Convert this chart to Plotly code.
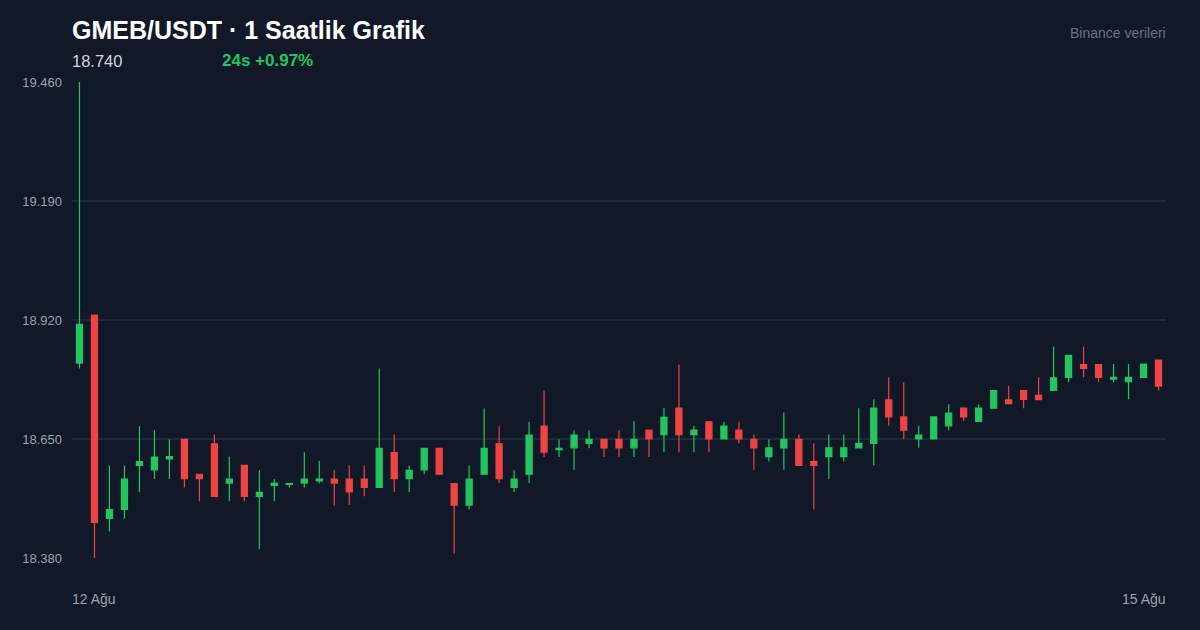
import plotly.graph_objects as go

opens = [18.822, 18.931, 18.470, 18.490, 18.590, 18.580, 18.605, 18.649, 18.570, 18.639,
         18.550, 18.590, 18.520, 18.545, 18.547, 18.550, 18.555, 18.559, 18.559, 18.559,
         18.540, 18.619, 18.560, 18.580, 18.629, 18.549, 18.500, 18.570, 18.639, 18.540,
         18.570, 18.679, 18.626, 18.630, 18.640, 18.649, 18.649, 18.630, 18.670, 18.660,
         18.720, 18.660, 18.689, 18.650, 18.670, 18.649, 18.610, 18.630, 18.649, 18.599,
         18.610, 18.610, 18.630, 18.640, 18.739, 18.700, 18.650, 18.650, 18.680, 18.720,
         18.690, 18.720, 18.739, 18.760, 18.749, 18.760, 18.790, 18.819, 18.819, 18.786,
         18.780, 18.790, 18.829]
highs = [19.460, 18.932, 18.590, 18.590, 18.679, 18.670, 18.649, 18.650, 18.571, 18.660,
         18.610, 18.591, 18.579, 18.559, 18.550, 18.620, 18.600, 18.579, 18.590, 18.590,
         18.810, 18.660, 18.590, 18.630, 18.630, 18.550, 18.590, 18.719, 18.679, 18.579,
         18.689, 18.760, 18.649, 18.670, 18.670, 18.650, 18.670, 18.690, 18.670, 18.720,
         18.819, 18.680, 18.690, 18.689, 18.689, 18.660, 18.649, 18.710, 18.660, 18.640,
         18.660, 18.660, 18.720, 18.740, 18.790, 18.779, 18.680, 18.700, 18.729, 18.720,
         18.729, 18.760, 18.770, 18.760, 18.790, 18.860, 18.840, 18.860, 18.820, 18.820,
         18.820, 18.820, 18.830]
lows = [18.810, 18.380, 18.440, 18.469, 18.530, 18.559, 18.559, 18.540, 18.509, 18.519,
        18.509, 18.509, 18.400, 18.509, 18.540, 18.540, 18.549, 18.499, 18.500, 18.520,
        18.539, 18.530, 18.530, 18.570, 18.569, 18.390, 18.490, 18.569, 18.550, 18.530,
        18.550, 18.609, 18.609, 18.580, 18.629, 18.609, 18.609, 18.609, 18.609, 18.620,
        18.620, 18.620, 18.620, 18.649, 18.640, 18.580, 18.599, 18.580, 18.589, 18.490,
        18.559, 18.599, 18.629, 18.590, 18.680, 18.650, 18.630, 18.650, 18.670, 18.690,
        18.690, 18.720, 18.729, 18.720, 18.739, 18.760, 18.779, 18.790, 18.779, 18.779,
        18.740, 18.790, 18.760]
closes = [18.910, 18.461, 18.490, 18.559, 18.599, 18.609, 18.610, 18.560, 18.560, 18.520,
          18.559, 18.520, 18.529, 18.550, 18.549, 18.559, 18.559, 18.550, 18.530, 18.540,
          18.629, 18.560, 18.579, 18.629, 18.570, 18.500, 18.559, 18.629, 18.560, 18.559,
          18.659, 18.620, 18.629, 18.659, 18.649, 18.630, 18.630, 18.649, 18.650, 18.699,
          18.660, 18.670, 18.650, 18.679, 18.650, 18.630, 18.630, 18.649, 18.590, 18.590,
          18.630, 18.630, 18.640, 18.720, 18.700, 18.670, 18.659, 18.700, 18.709, 18.700,
          18.720, 18.760, 18.730, 18.740, 18.739, 18.789, 18.840, 18.810, 18.790, 18.790,
          18.790, 18.820, 18.770]

y_ticks = [18.380, 18.650, 18.920, 19.190, 19.460]
y_tick_labels = ["18.380", "18.650", "18.920", "19.190", "19.460"]
x_labels = ["12 Ağu", "15 Ağu"]
title_text = "GMEB/USDT · 1 Saatlik Grafik"
price_text = "18.740"
change_text = "24s +0.97%"
source_text = "Binance verileri"

BG = "#111827"
GREEN = "#22c55e"
RED = "#ef4444"
GRID = "#1f2a37"
FONT = "Liberation Sans, Arial, sans-serif"

x = list(range(len(opens)))

fig = go.Figure(go.Candlestick(
    x=x, open=opens, high=highs, low=lows, close=closes,
    increasing=dict(line=dict(color=GREEN, width=1.2), fillcolor=GREEN),
    decreasing=dict(line=dict(color=RED, width=1.2), fillcolor=RED),
    whiskerwidth=0, hoverinfo="skip", showlegend=False,
))

fig.update_layout(
    width=1200, height=630,
    paper_bgcolor=BG, plot_bgcolor=BG,
    margin=dict(l=72, r=34, t=82, b=72),
    boxgap=0.42,
    font=dict(family=FONT, color="#9ca3af", size=13),
    xaxis=dict(range=[-0.5, len(opens) - 0.5], showgrid=False, showticklabels=False,
               zeroline=False, showline=False, rangeslider=dict(visible=False), fixedrange=True),
    yaxis=dict(range=[y_ticks[0], y_ticks[-1]], tickvals=y_ticks, ticktext=y_tick_labels,
               showgrid=True, gridcolor=GRID, gridwidth=1.5, zeroline=False, showline=False,
               ticks="", ticklabelstandoff=9, tickfont=dict(size=13, color="#9ca3af"),
               fixedrange=True),
)

PL, PR, PT, PB = 72, 1166, 82, 558
def px(xp):
    return (xp - PL) / (PR - PL)
def py(yp):
    return (PB - yp) / (PB - PT)

ann_specs = [
    (f"<b>{title_text}</b>", 25, "#ffffff", 70, 30, "left"),
    (price_text, 16.5, "#d1d5db", 70, 61, "left"),
    (f"<b>{change_text}</b>", 17, GREEN, 220, 61, "left"),
    (source_text, 14, "#64748b", 1168, 33, "right"),
    (x_labels[0], 14, "#9ca3af", 70, 599, "left"),
    (x_labels[1], 14, "#9ca3af", 1168, 599, "right"),
]
for text, size, color, xx, yy, anc in ann_specs:
    fig.add_annotation(text=text, x=px(xx), y=py(yy), xref="paper", yref="paper",
                       xanchor=anc, yanchor="middle", showarrow=False,
                       font=dict(size=size, color=color, family=FONT))

fig.write_html("out.html", config={"displayModeBar": False, "staticPlot": True},
               post_script="document.body.style.margin='0';document.body.style.background='#111827';")
